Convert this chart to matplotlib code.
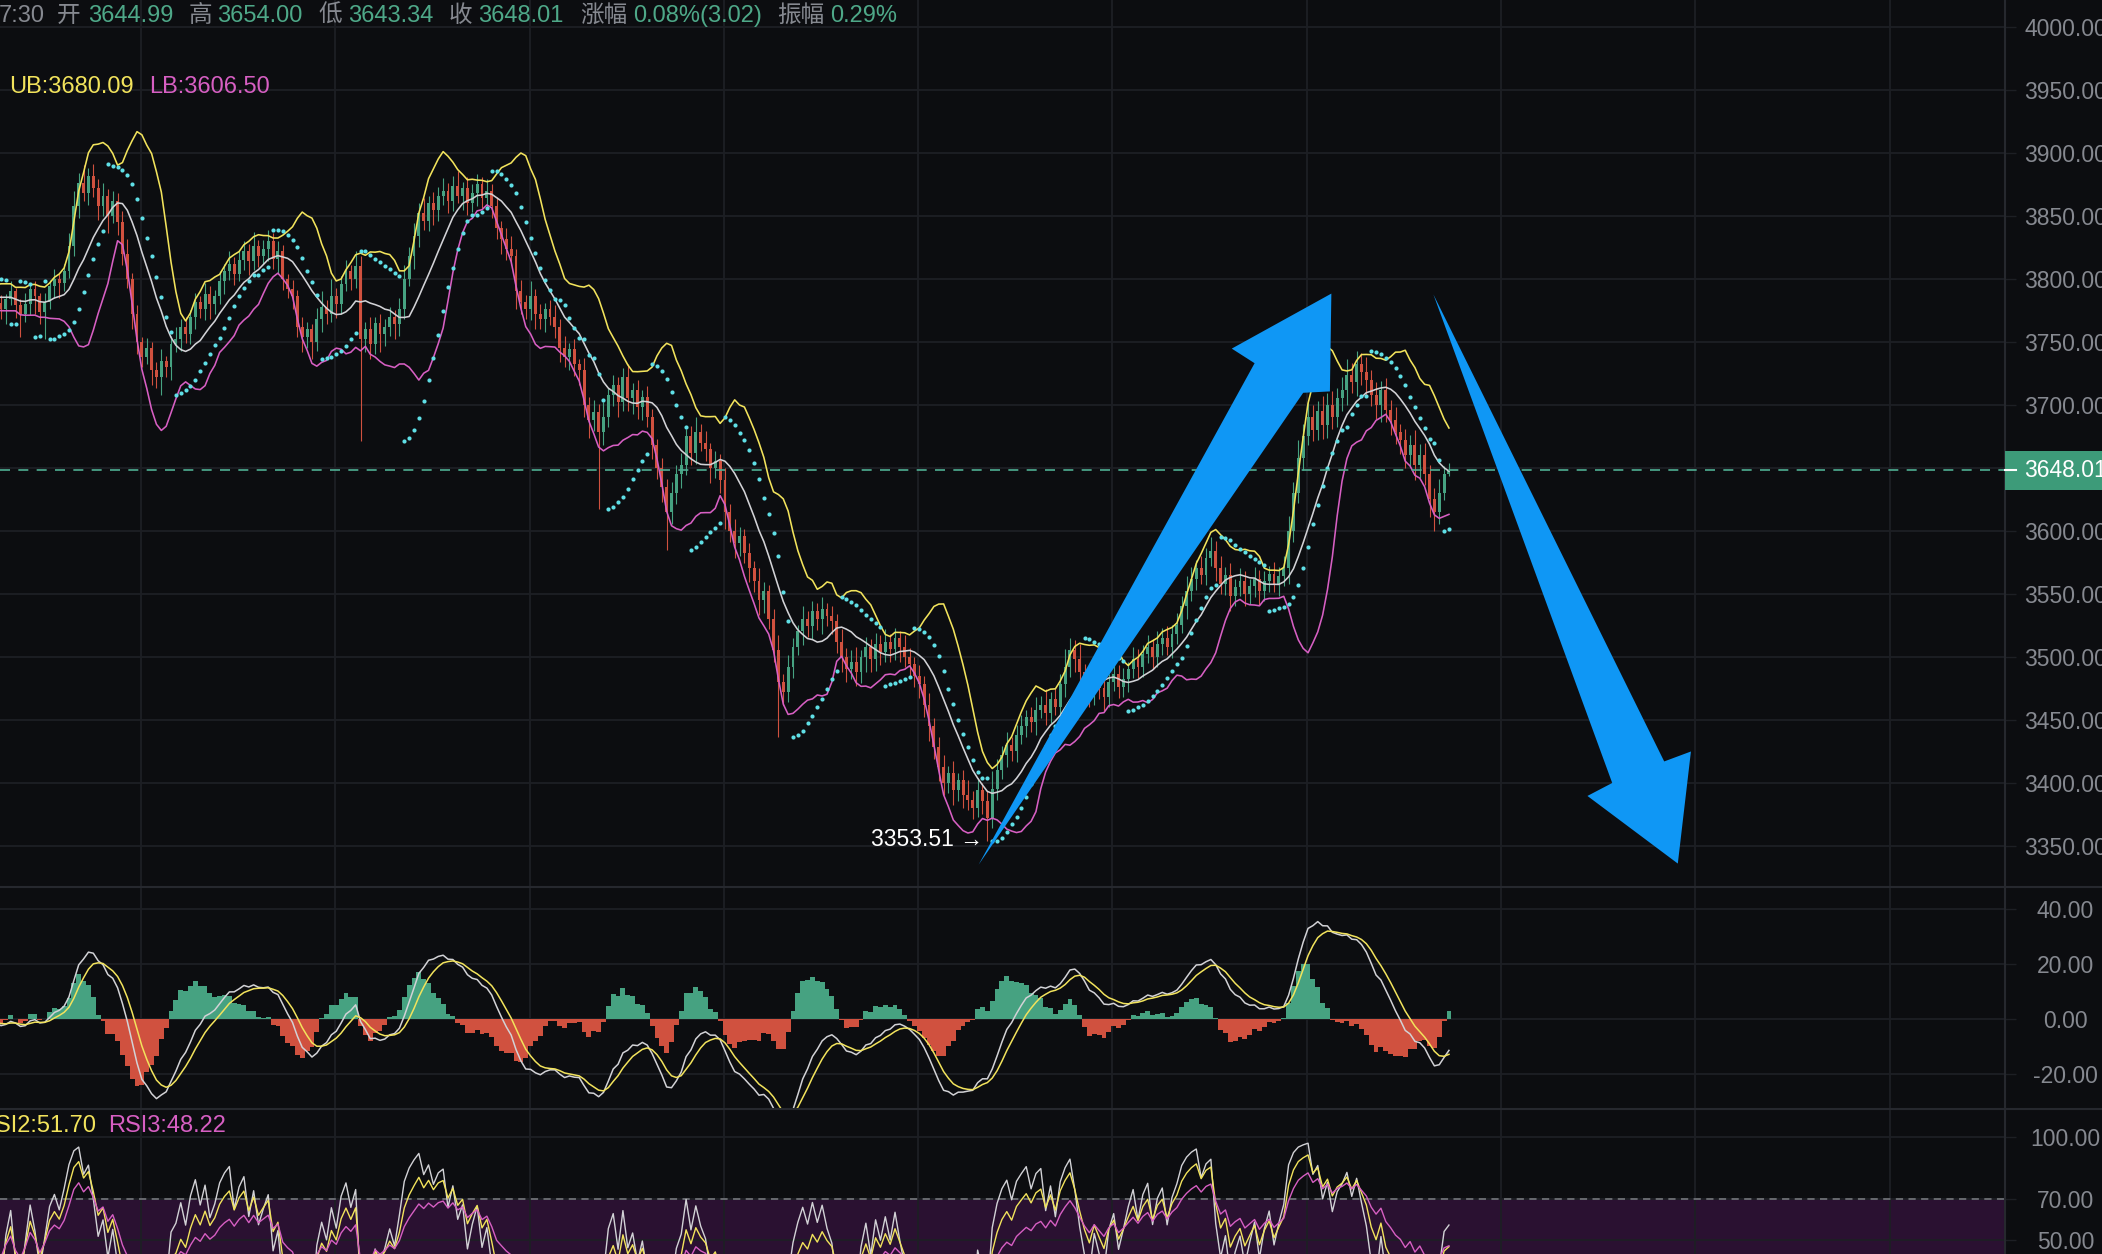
import numpy as np
import pandas as pd
import matplotlib
matplotlib.use("Agg")
import matplotlib.pyplot as plt
from matplotlib.lines import Line2D
from matplotlib.patches import Rectangle

plt.rcParams['font.family'] = ['Liberation Sans', 'Noto Sans CJK SC', 'DejaVu Sans']

# %% Data

# bars before the left edge, only used to warm up the indicators
warmup_close = [
    3790, 3796, 3801, 3795, 3788, 3792, 3799, 3806, 3800, 3794,
    3787, 3782, 3790, 3797, 3803, 3798, 3791, 3786, 3781, 3788,
    3795, 3800, 3794, 3789, 3785, 3791, 3797, 3792, 3786, 3780,
    3784, 3790, 3795, 3789, 3783, 3779, 3785, 3791, 3786, 3781,
]

# visible bars, left to right (open = previous close)
close_vals = [
    3776, 3784, 3790, 3779, 3772, 3780, 3792, 3786, 3774, 3782,
    3794, 3800, 3797, 3806, 3826, 3858, 3876, 3868, 3882, 3872,
    3858, 3866, 3850, 3862, 3845, 3820, 3800, 3772, 3750, 3738,
    3745, 3728, 3722, 3735, 3730, 3748, 3752, 3762, 3756, 3770,
    3782, 3776, 3788, 3780, 3786, 3798, 3806, 3812, 3804, 3815,
    3822, 3814, 3826, 3818, 3824, 3830, 3816, 3822, 3800, 3792,
    3786, 3762, 3754, 3760, 3750, 3768, 3778, 3772, 3786, 3780,
    3796, 3806, 3800, 3810, 3752, 3760, 3748, 3765, 3756, 3762,
    3770, 3764, 3776, 3800, 3818, 3834, 3852, 3846, 3860, 3855,
    3866, 3870, 3862, 3874, 3866, 3872, 3860, 3868, 3875, 3864,
    3870, 3858, 3840, 3832, 3824, 3818, 3790, 3782, 3776, 3786,
    3772, 3768, 3776, 3770, 3762, 3745, 3738, 3744, 3732, 3728,
    3700, 3688, 3694, 3678, 3690, 3708, 3716, 3702, 3722, 3705,
    3712, 3698, 3706, 3690, 3668, 3650, 3635, 3615, 3630, 3645,
    3652, 3675, 3662, 3678, 3670, 3665, 3650, 3655, 3640, 3615,
    3600, 3590, 3596, 3582, 3570, 3560, 3545, 3552, 3530, 3505,
    3480, 3472, 3492, 3508, 3520, 3530, 3524, 3536, 3530, 3538,
    3532, 3528, 3512, 3500, 3490, 3496, 3488, 3500, 3508, 3498,
    3510, 3504, 3512, 3506, 3515, 3508, 3500, 3494, 3485, 3478,
    3462, 3445, 3428, 3412, 3400, 3408, 3394, 3402, 3390, 3386,
    3380, 3394, 3385, 3372, 3395, 3410, 3422, 3430, 3425, 3438,
    3445, 3452, 3448, 3458, 3462, 3455, 3466, 3460, 3478, 3492,
    3505, 3498, 3488, 3478, 3470, 3482, 3475, 3468, 3480, 3486,
    3476, 3482, 3490, 3498, 3492, 3502, 3508, 3500, 3510, 3515,
    3508, 3518, 3525, 3540, 3552, 3562, 3570, 3565, 3578, 3584,
    3570, 3558, 3565, 3548, 3555, 3560, 3550, 3556, 3562, 3552,
    3560, 3566, 3558, 3564, 3570, 3600, 3630, 3658, 3675, 3690,
    3680, 3695, 3684, 3700, 3690, 3705, 3712, 3724, 3718, 3732,
    3726, 3720, 3708, 3700, 3712, 3696, 3688, 3678, 3672, 3660,
    3668, 3652, 3660, 3645, 3625, 3615, 3630, 3644.99, 3648.01,
]

# upper / lower shadow length of each bar (warm-up first)
wick_hi = [
    5, 3, 6, 4, 2, 7, 3, 5, 4, 6,
    3, 5, 8, 4, 6, 2, 5, 3, 7, 4,
    6, 3, 5, 4, 2, 6, 4, 5, 3, 7,
    4, 6, 3, 5, 4, 2, 6, 5, 3, 4,
    6, 4, 8, 3, 5, 9, 4, 6, 3, 7,
    5, 8, 4, 6, 10, 12, 8, 14, 6, 9,
    7, 10, 5, 8, 6, 9, 12, 5, 7, 4,
    8, 5, 6, 9, 4, 7, 10, 6, 8, 5,
    7, 4, 9, 6, 5, 8, 6, 10, 5, 7,
    8, 6, 11, 5, 7, 9, 6, 8, 5, 4,
    7, 5, 8, 6, 4, 9, 12, 5, 14, 7,
    6, 9, 5, 12, 8, 6, 10, 5, 7, 6,
    8, 5, 9, 11, 7, 10, 8, 12, 6, 9,
    7, 10, 6, 8, 12, 5, 9, 7, 8, 6,
    9, 5, 7, 6, 8, 10, 6, 9, 5, 12,
    6, 8, 5, 7, 9, 6, 10, 5, 8, 4,
    9, 6, 10, 7, 12, 5, 8, 6, 7, 10,
    5, 8, 6, 9, 7, 5, 8, 6, 9, 7,
    10, 6, 8, 12, 7, 9, 5, 8, 6, 10,
    6, 9, 7, 5, 8, 6, 10, 7, 5, 8,
    12, 6, 9, 7, 5, 10, 6, 8, 7, 9,
    5, 8, 6, 10, 7, 9, 12, 5, 8, 6,
    9, 7, 10, 6, 8, 5, 9, 7, 6, 8,
    7, 9, 6, 8, 10, 5, 9, 6, 8, 12,
    7, 10, 6, 8, 14, 9, 7, 10, 6, 8,
    9, 6, 8, 10, 7, 12, 6, 9, 8, 14,
    10, 8, 12, 6, 9, 7, 10, 8, 6, 9,
    7, 9, 6, 10, 8, 7, 9, 6, 10, 8,
    9, 7, 10, 8, 12, 9, 7, 10, 8, 11,
    8, 10, 6, 9, 7, 10, 8, 6, 9, 7,
    8, 6, 9, 7, 10, 12, 9, 14, 10, 12,
    10, 8, 12, 9, 11, 8, 10, 12, 9, 11,
    9, 12, 8, 10, 7, 9, 8, 10, 7, 9,
    8, 12, 9, 10, 7, 9, 11, 6, 5.99,
]
wick_lo = [
    4, 6, 3, 5, 7, 2, 5, 4, 6, 3,
    5, 7, 3, 6, 4, 5, 8, 3, 6, 4,
    3, 5, 6, 4, 7, 3, 5, 6, 4, 8,
    5, 3, 6, 4, 7, 5, 3, 6, 4, 5,
    8, 12, 5, 10, 18, 6, 9, 14, 10, 22,
    6, 9, 12, 7, 5, 8, 10, 6, 9, 7,
    11, 8, 14, 6, 10, 9, 7, 12, 10, 8,
    6, 12, 9, 14, 8, 10, 6, 9, 7, 8,
    10, 7, 9, 12, 8, 6, 10, 7, 9, 6,
    8, 11, 7, 9, 6, 10, 8, 12, 9, 7,
    10, 8, 12, 9, 14, 7, 10, 8, 6, 11,
    8, 6, 9, 7, 81, 10, 12, 8, 14, 9,
    7, 12, 9, 8, 6, 10, 9, 7, 8, 12,
    9, 7, 10, 8, 6, 11, 9, 7, 10, 8,
    7, 10, 8, 12, 9, 7, 14, 10, 8, 9,
    12, 8, 10, 7, 9, 11, 8, 10, 9, 12,
    10, 14, 9, 61, 10, 8, 9, 12, 7, 10,
    12, 9, 10, 8, 11, 9, 12, 30, 10, 9,
    11, 8, 10, 9, 7, 10, 12, 8, 10, 14,
    9, 12, 10, 8, 11, 9, 12, 10, 8, 9,
    44, 10, 8, 9, 7, 11, 8, 10, 9, 12,
    8, 10, 9, 12, 10, 8, 11, 9, 12, 10,
    9, 11, 8, 10, 9, 12, 8, 10, 9, 11,
    10, 12, 9, 11, 10, 8, 12, 9, 10, 8,
    9, 7, 10, 18.49, 8, 9, 7, 10, 8, 9,
    7, 9, 8, 10, 7, 9, 8, 6, 9, 10,
    8, 10, 12, 9, 10, 8, 9, 11, 8, 7,
    9, 8, 10, 7, 9, 8, 7, 10, 8, 9,
    7, 9, 8, 6, 10, 8, 9, 7, 8, 6,
    10, 8, 9, 12, 8, 7, 10, 8, 9, 11,
    8, 9, 7, 10, 8, 12, 9, 8, 10, 7,
    9, 8, 11, 10, 9, 8, 10, 12, 9, 11,
    10, 12, 9, 11, 14, 10, 12, 9, 11, 10,
    9, 12, 10, 9, 14, 15, 10, 6, 1.65,
]

header_parts = [
    ("7:30", "label"), ("开", "label"), ("3644.99", "value"),
    ("高", "label"), ("3654.00", "value"), ("低", "label"), ("3643.34", "value"),
    ("收", "label"), ("3648.01", "value"), ("涨幅", "label"),
    ("0.08%(3.02)", "value"), ("振幅", "label"), ("0.29%", "value"),
]
boll_text = ["UB:3680.09", "LB:3606.50"]
rsi_text = ["RSI2:51.70", "RSI3:48.22"]
last_price = 3648.01

price_ticks = [3350, 3400, 3450, 3500, 3550, 3600, 3650, 3700,
               3750, 3800, 3850, 3900, 3950, 4000]
macd_ticks = [-20, 0, 20, 40]
rsi_ticks = [50, 70, 100]

# hand-drawn blue arrows, vertices as (bar index, price)
arrow_up = [(201.2, 3334.8), (268.0, 3709.5), (273.5, 3710.6),
            (273.8, 3788.3), (253.3, 3744.6), (258.0, 3733.0)]
arrow_down = [(294.8, 3787.6), (342.3, 3416.8), (347.8, 3424.7),
              (345.1, 3335.7), (326.5, 3389.4), (331.6, 3399.7)]

# %% Indicators

n_warm = len(warmup_close)
closes = np.array(warmup_close + close_vals, dtype=float)
if not (len(closes) == len(wick_hi) == len(wick_lo)):
    raise SystemExit(f"length mismatch {len(closes)} {len(wick_hi)} {len(wick_lo)}")
idx = np.arange(len(closes)) - n_warm
opens = np.r_[closes[0], closes[:-1]]
highs = np.maximum(opens, closes) + np.array(wick_hi)
lows = np.minimum(opens, closes) - np.array(wick_lo)

c = pd.Series(closes)
mid = c.rolling(11, min_periods=1).mean()
sd = c.rolling(11, min_periods=1).std(ddof=0)
ub, lb = mid + 2 * sd, mid - 2 * sd

dif = c.ewm(span=7, adjust=False).mean() - c.ewm(span=15, adjust=False).mean()
dea = dif.ewm(span=5, adjust=False).mean()
hist = 2 * (dif - dea)


def rsi(n):
    d = c.diff().fillna(0)
    up = d.clip(lower=0).ewm(alpha=1 / n, adjust=False).mean()
    tot = d.abs().ewm(alpha=1 / n, adjust=False).mean()
    return 100 * up / tot.replace(0, np.nan)


rsi1, rsi2, rsi3 = rsi(4), rsi(7), rsi(14)


def psar(high, low, step=0.02, max_step=0.2):
    sar = np.zeros(len(high))
    rising, af, ep = True, step, high[0]
    sar[0] = low[0]
    for i in range(1, len(high)):
        s = sar[i - 1] + af * (ep - sar[i - 1])
        if rising:
            s = min(s, low[i - 1], low[max(i - 2, 0)])
            if low[i] < s:
                rising, s, ep, af = False, ep, low[i], step
            elif high[i] > ep:
                ep, af = high[i], min(af + step, max_step)
        else:
            s = max(s, high[i - 1], high[max(i - 2, 0)])
            if high[i] > s:
                rising, s, ep, af = True, ep, high[i], step
            elif low[i] < ep:
                ep, af = low[i], min(af + step, max_step)
        sar[i] = s
    return sar


sar = psar(highs, lows)

# %% Figure

BG = '#0c0d10'
GRID = '#1d1f24'
SEP = '#26282e'
TXT = '#868990'
GREEN = '#46a281'
RED = '#d0513f'
YEL = '#f2e35c'
PINK = '#d75fc3'
WHITE = '#d2d2d6'
CYAN = '#5fdfe6'
BLUE = '#0f97f5'

W, H = 2102, 1254
DX = 4.859          # pixels per bar
X_LEFT = -0.2
X_RIGHT = X_LEFT + 2005 / DX
LABEL_X = 2065.5

fig = plt.figure(figsize=(W / 100, H / 100), dpi=100, facecolor=BG)


def rect(x0, y0, x1, y1):
    return [x0 / W, 1 - y1 / H, (x1 - x0) / W, (y1 - y0) / H]


ax = fig.add_axes(rect(0, 0, 2005, 887))
axm = fig.add_axes(rect(0, 887, 2005, 1109))
axr = fig.add_axes(rect(0, 1109, 2005, 1254))

grid_x = X_LEFT + (141 + 194.3 * np.arange(10)) / DX
for a in (ax, axm, axr):
    a.set_facecolor(BG)
    a.set_xlim(X_LEFT, X_RIGHT)
    for s in a.spines.values():
        s.set_visible(False)
    a.set_xticks(grid_x)
    a.tick_params(axis='x', length=0, labelbottom=False)
    a.yaxis.tick_right()
    a.tick_params(axis='y', length=8, width=1, color=GRID, pad=35.6,
                  labelsize=16.5, labelcolor=TXT)
    a.grid(True, color=GRID, lw=1.3)
    a.set_axisbelow(True)

# main price pane
ax.set_ylim(3317.1, 4021.4)
ax.set_yticks(price_ticks)
ax.set_yticklabels([f"{v:.2f}" for v in price_ticks])

col = np.where(closes >= opens, GREEN, RED)
ax.vlines(idx, lows, highs, colors=col, lw=0.8, zorder=2)
body = np.maximum(np.abs(closes - opens), 0.8)
ax.bar(idx, body, bottom=np.minimum(opens, closes), width=0.6, color=col,
       linewidth=0, zorder=2)

ax.plot(idx, ub, color=YEL, lw=1.15, zorder=3)
ax.plot(idx, mid, color=WHITE, lw=1.15, zorder=3)
ax.plot(idx, lb, color=PINK, lw=1.15, zorder=3)
ax.plot(idx, sar, 'o', ms=3.0, mew=0, color=CYAN, zorder=3)

ax.axhline(last_price, color='#4fae92', lw=1.2, ls=(0, (6, 5)), zorder=3)

vis = idx >= 0
lo_i = np.argmin(np.where(vis, lows, np.inf))
ax.annotate(f"{lows[lo_i]:.2f} →", xy=(idx[lo_i], lows[lo_i]), xytext=(-3, 1),
            textcoords='offset points', ha='right', va='center',
            color='white', fontsize=16.5, zorder=6,
            family=['Liberation Sans', 'DejaVu Sans'])

for shape in (arrow_up, arrow_down):
    xs, ys = zip(*shape)
    ax.fill(xs, ys, color=BLUE, lw=0, zorder=5)

# MACD pane
axm.set_ylim(-32.9, 48.0)
axm.set_yticks(macd_ticks)
axm.set_yticklabels([f"{v:.2f}" for v in macd_ticks])
hcol = np.where(hist >= 0, GREEN, RED)
axm.bar(idx, hist, width=1.0, color=hcol, linewidth=0, zorder=2)
axm.plot(idx, dif, color=WHITE, lw=1.1, zorder=3)
axm.plot(idx, dea, color=YEL, lw=1.1, zorder=3)

# RSI pane
axr.set_ylim(43.2, 113.6)
axr.set_yticks(rsi_ticks)
axr.set_yticklabels([f"{v:.2f}" for v in rsi_ticks])
axr.axhspan(30, 70, color='#2a1131', lw=0, zorder=0.5)
axr.axhline(70, color='#6d6f75', lw=1.3, ls=(0, (4, 3)), zorder=1)
axr.plot(idx, rsi1, color=WHITE, lw=1.0, zorder=3)
axr.plot(idx, rsi2, color=YEL, lw=1.0, zorder=3)
axr.plot(idx, rsi3, color=PINK, lw=1.0, zorder=3)

for a in (ax, axm, axr):
    for lbl in a.get_yticklabels():
        lbl.set_horizontalalignment('center')

# pane separators and price-axis border
for y in (887, 1109):
    fig.add_artist(Line2D([0, 1], [1 - y / H] * 2, color=SEP, lw=1.5))
fig.add_artist(Line2D([2005 / W] * 2, [0, 1], color=SEP, lw=1.5))

# last price tag
y_tag = fig.transFigure.inverted().transform(
    ax.transData.transform((0, last_price)))[1]
fig.add_artist(Rectangle((2005 / W, y_tag - 19.5 / H), 97 / W, 39 / H,
                         transform=fig.transFigure, color='#3d9b79', lw=0, zorder=5))
fig.add_artist(Line2D([2005 / W, 2016 / W], [y_tag] * 2, color='white', lw=1.5, zorder=6))
fig.text(LABEL_X / W, y_tag, f"{last_price:.2f}", ha='center', va='center',
         color='white', fontsize=16.5, zorder=7)

# header and indicator captions
header_x = [-1, 57, 88, 189, 217, 318, 348, 449, 478, 580, 633, 777, 830]
for (s, kind), x in zip(header_parts, header_x):
    fig.text(x / W, 1 - 16 / H, s, color=TXT if kind == "label" else '#4ea888',
             fontsize=17, va='center', ha='left')

fig.text(9 / W, 1 - 87 / H, boll_text[0], color=YEL, fontsize=17, va='center')
fig.text(149 / W, 1 - 87 / H, boll_text[1], color=PINK, fontsize=17, va='center')
fig.text(-22 / W, 1 - 1126 / H, rsi_text[0], color=YEL, fontsize=17, va='center')
fig.text(108 / W, 1 - 1126 / H, rsi_text[1], color=PINK, fontsize=17, va='center')

fig.savefig("out.png", dpi=100, facecolor=BG)
